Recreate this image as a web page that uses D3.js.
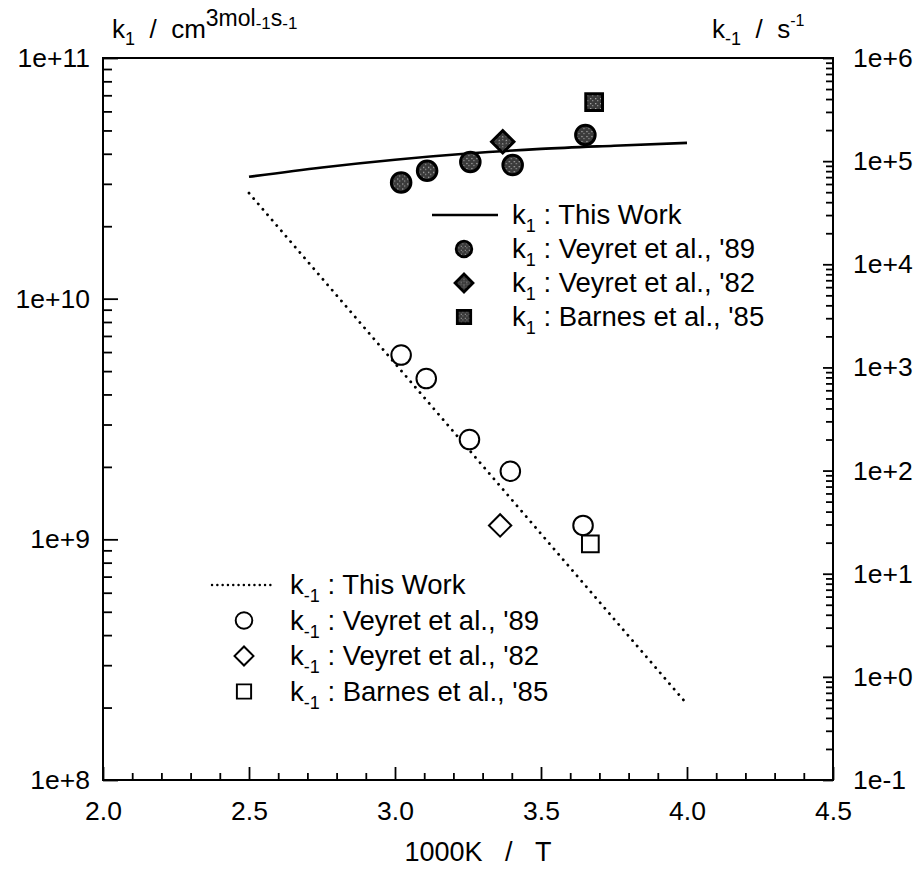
<!DOCTYPE html>
<html>
<head>
<meta charset="utf-8">
<script src="https://cdn.jsdelivr.net/npm/d3@7"></script>
<style>
  body { margin: 0; background: #fff; }
  svg { display: block; font-family: Arial, "Liberation Sans", sans-serif; }
</style>
</head>
<body>
<div id="chart"></div>
<script>
// x = 1000K / T, k1 in cm3 mol-1 s-1 (left axis), k-1 in s-1 (right axis)
let k1FitX = [2.5, 2.75, 3.0, 3.25, 3.5, 3.75, 4.0];
let k1FitY = [3.21e10, 3.51e10, 3.78e10, 4.01e10, 4.19e10, 4.32e10, 4.44e10];

let kmFitX = [2.5, 4.0];
let kmFitY = [4.9e4, 0.544];

let k1Veyret89X = [3.021, 3.110, 3.258, 3.403, 3.652];
let k1Veyret89Y = [3.04e10, 3.40e10, 3.70e10, 3.59e10, 4.79e10];
let k1Veyret82X = [3.369];
let k1Veyret82Y = [4.49e10];
let k1Barnes85X = [3.682];
let k1Barnes85Y = [6.56e10];

let kmVeyret89X = [3.021, 3.107, 3.255, 3.395, 3.644];
let kmVeyret89Y = [1318, 780, 200, 98.5, 29.4];
let kmVeyret82X = [3.360];
let kmVeyret82Y = [29.4];
let kmBarnes85X = [3.669];
let kmBarnes85Y = [19.5];

let xTicks = [2.0, 2.5, 3.0, 3.5, 4.0, 4.5];
let xTickLabels = ["2.0", "2.5", "3.0", "3.5", "4.0", "4.5"];
let leftTicks = [1e8, 1e9, 1e10, 1e11];
let leftTickLabels = ["1e+8", "1e+9", "1e+10", "1e+11"];
let rightTicks = [1e-1, 1e0, 1e1, 1e2, 1e3, 1e4, 1e5, 1e6];
let rightTickLabels = ["1e-1", "1e+0", "1e+1", "1e+2", "1e+3", "1e+4", "1e+5", "1e+6"];

let legendSources = ["This Work", "Veyret et al., '89", "Veyret et al., '82", "Barnes et al., '85"];

let width = 921, height = 875;
let margin = { top: 58, right: 88, bottom: 95, left: 103 };

let x = d3.scaleLinear().domain([2.0, 4.5]).range([margin.left, width - margin.right]);
let yL = d3.scaleLog().domain([1e8, 1e11]).range([height - margin.bottom, margin.top]);
let yR = d3.scaleLog().domain([1e-1, 1e6]).range([height - margin.bottom, margin.top]);

const svg = d3.select("#chart").append("svg")
  .attr("width", width)
  .attr("height", height);

// speckled fill for the filled markers
const pat = svg.append("defs").append("pattern")
  .attr("id", "speckle")
  .attr("patternUnits", "userSpaceOnUse")
  .attr("width", 5).attr("height", 5);
pat.append("rect").attr("width", 5).attr("height", 5).attr("fill", "#3a3a3a");
pat.append("rect").attr("x", 1).attr("y", 1).attr("width", 1.2).attr("height", 1.2).attr("fill", "#bbb");
pat.append("rect").attr("x", 3).attr("y", 3).attr("width", 1.2).attr("height", 1.2).attr("fill", "#999");

let tickFont = 26.5;
let isPow10 = d => Math.abs(Math.log10(d) - Math.round(Math.log10(d))) < 1e-9;

function styleAxis(g) {
  g.selectAll("text").attr("font-size", tickFont).attr("fill", "#000")
    .attr("font-family", "Arial, 'Liberation Sans', sans-serif");
  g.selectAll("line").attr("stroke", "#000").attr("stroke-width", 1.8);
  g.select(".domain").remove();
}

// left axis
svg.append("g")
  .attr("transform", `translate(${margin.left},0)`)
  .call(d3.axisLeft(yL).tickValues(yL.ticks().filter(d => !isPow10(d))).tickSize(-9).tickFormat(""))
  .call(styleAxis);
svg.append("g")
  .attr("transform", `translate(${margin.left},0)`)
  .call(d3.axisLeft(yL).tickValues(leftTicks).tickSize(-15).tickPadding(13)
    .tickFormat((d, i) => leftTickLabels[i]))
  .call(styleAxis);

// right axis
svg.append("g")
  .attr("transform", `translate(${width - margin.right},0)`)
  .call(d3.axisRight(yR).tickValues(yR.ticks().filter(d => !isPow10(d))).tickSize(-7).tickFormat(""))
  .call(styleAxis);
svg.append("g")
  .attr("transform", `translate(${width - margin.right},0)`)
  .call(d3.axisRight(yR).tickValues(rightTicks).tickSize(-10).tickPadding(20)
    .tickFormat((d, i) => rightTickLabels[i]))
  .call(styleAxis);

// bottom axis
svg.append("g")
  .attr("transform", `translate(0,${height - margin.bottom})`)
  .call(d3.axisBottom(x).tickValues(x.ticks(25).filter(d => Math.abs(d * 2 - Math.round(d * 2)) > 1e-6))
    .tickSize(-7).tickFormat(""))
  .call(styleAxis);
svg.append("g")
  .attr("transform", `translate(0,${height - margin.bottom})`)
  .call(d3.axisBottom(x).tickValues(xTicks).tickSize(-13).tickPadding(21)
    .tickFormat((d, i) => xTickLabels[i]))
  .call(styleAxis);

// frame
svg.append("rect")
  .attr("x", margin.left).attr("y", margin.top)
  .attr("width", width - margin.left - margin.right)
  .attr("height", height - margin.top - margin.bottom)
  .attr("fill", "none").attr("stroke", "#000").attr("stroke-width", 2);

// axis titles
let leftTitle = svg.append("text").attr("x", 112).attr("y", 38).attr("font-size", 26);
leftTitle.append("tspan").text("k");
leftTitle.append("tspan").attr("font-size", 18).attr("dy", 7).text("1");
leftTitle.append("tspan").attr("dy", -7).text("\u00a0\u00a0/\u00a0\u00a0cm");
leftTitle.append("tspan").attr("font-size", 23).attr("dy", -12).text("3mol");
leftTitle.append("tspan").attr("font-size", 17).attr("dy", 3).text("-1");
leftTitle.append("tspan").attr("font-size", 23).attr("dy", -3).text("s");
leftTitle.append("tspan").attr("font-size", 17).attr("dy", 3).text("-1");

let rightTitle = svg.append("text").attr("x", 712).attr("y", 38).attr("font-size", 26);
rightTitle.append("tspan").text("k");
rightTitle.append("tspan").attr("font-size", 18).attr("dy", 7).text("-1");
rightTitle.append("tspan").attr("dy", -7).text("\u00a0\u00a0/\u00a0\u00a0s");
rightTitle.append("tspan").attr("font-size", 16).attr("dy", -12).text("-1");

svg.append("text")
  .attr("x", (margin.left + width - margin.right) / 2 + 10)
  .attr("y", height - 14)
  .attr("text-anchor", "middle")
  .attr("font-size", 27)
  .text("1000K\u00a0\u00a0\u00a0/\u00a0\u00a0\u00a0T");

// fitted lines
let k1Line = d3.line().x(d => x(d[0])).y(d => yL(d[1])).curve(d3.curveMonotoneX);
let kmLine = d3.line().x(d => x(d[0])).y(d => yR(d[1]));

svg.append("path")
  .datum(d3.zip(k1FitX, k1FitY))
  .attr("d", k1Line)
  .attr("fill", "none").attr("stroke", "#000").attr("stroke-width", 2.6);

svg.append("path")
  .datum(d3.zip(kmFitX, kmFitY))
  .attr("d", kmLine)
  .attr("fill", "none").attr("stroke", "#000").attr("stroke-width", 2.8)
  .attr("stroke-dasharray", "0.1,7").attr("stroke-linecap", "round");

// markers
let circleSym = d3.symbol().type(d3.symbolCircle).size(300);
let diamondSym = d3.symbol().type(d3.symbolSquare).size(250);
let squareSym = d3.symbol().type(d3.symbolSquare).size(280);

function drawMarkers(xs, ys, yScale, sym, rotate, filled) {
  svg.append("g").selectAll("path")
    .data(d3.zip(xs, ys))
    .join("path")
    .attr("d", sym)
    .attr("transform", d => `translate(${x(d[0])},${yScale(d[1])}) rotate(${rotate})`)
    .attr("fill", filled ? "url(#speckle)" : "#fff")
    .attr("stroke", "#000")
    .attr("stroke-width", filled ? 3 : 2);
}

drawMarkers(k1Veyret89X, k1Veyret89Y, yL, circleSym, 0, true);
drawMarkers(k1Veyret82X, k1Veyret82Y, yL, diamondSym, 45, true);
drawMarkers(k1Barnes85X, k1Barnes85Y, yL, squareSym, 0, true);

drawMarkers(kmVeyret89X, kmVeyret89Y, yR, circleSym, 0, false);
drawMarkers(kmVeyret82X, kmVeyret82Y, yR, diamondSym, 45, false);
drawMarkers(kmBarnes85X, kmBarnes85Y, yR, squareSym, 0, false);

// legends
function legend(x0, markX, textX, y0, step, sub, filled, dotted) {
  let g = svg.append("g");
  legendSources.forEach((s, i) => {
    let yy = y0 + i * step;
    if (i === 0) {
      g.append("line")
        .attr("x1", x0).attr("x2", x0 + (dotted ? 62 : 66))
        .attr("y1", yy).attr("y2", yy)
        .attr("stroke", "#000").attr("stroke-width", 2.4)
        .attr("stroke-dasharray", dotted ? "0.1,5.2" : null)
        .attr("stroke-linecap", dotted ? "round" : "butt");
    } else {
      let sym = i === 1 ? circleSym : i === 2 ? diamondSym : squareSym;
      let rot = i === 2 ? 45 : 0;
      g.append("path")
        .attr("d", sym)
        .attr("transform", `translate(${markX},${yy}) rotate(${rot}) scale(${filled ? 0.8 : 0.85})`)
        .attr("fill", filled ? "url(#speckle)" : "#fff")
        .attr("stroke", "#000")
        .attr("stroke-width", filled ? 3.5 : 2.3);
    }
    let t = g.append("text").attr("x", textX).attr("y", yy + 9).attr("font-size", 27.5);
    t.append("tspan").text("k");
    t.append("tspan").attr("font-size", 18).attr("dy", 8).text(sub);
    t.append("tspan").attr("dy", -8).text(" : " + s);
  });
}

legend(432, 464, 512, 215, 34, "1", true, false);
legend(212, 244, 290, 585, 35.5, "-1", false, true);
</script>
</body>
</html>
